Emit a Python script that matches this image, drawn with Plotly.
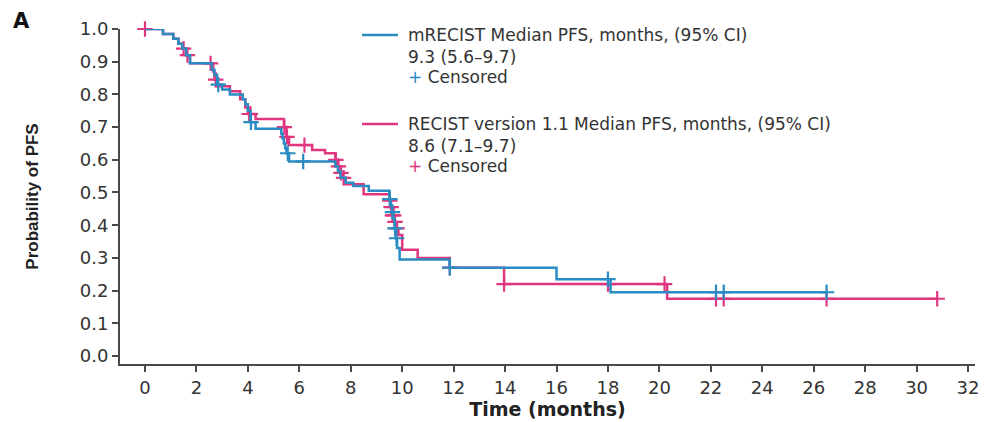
import numpy as np
import plotly.graph_objects as go

# ---------------- data ----------------
x_tick_vals = list(range(0, 33, 2))
y_tick_vals = [0.0, 0.1, 0.2, 0.3, 0.4, 0.5, 0.6, 0.7, 0.8, 0.9, 1.0]

# mRECIST: step times (months) and survival after each step
mrecist_times = [0, 0.7, 1.1, 1.3, 1.45, 1.6, 1.75, 2.6, 2.7, 2.8, 3.0, 3.3, 3.8, 3.9,
                 4.0, 4.1, 4.3, 5.3, 5.35, 5.4, 5.45, 5.5, 5.6, 7.4, 7.5, 7.6, 7.8,
                 8.1, 8.7, 9.5, 9.55, 9.6, 9.65, 9.7, 9.75, 9.8, 9.9, 11.85, 16.0, 18.1]
mrecist_surv = [1.0, 0.985, 0.97, 0.955, 0.94, 0.92, 0.895, 0.875, 0.86, 0.83, 0.815,
                0.80, 0.785, 0.77, 0.75, 0.715, 0.695, 0.68, 0.665, 0.65, 0.635, 0.62,
                0.595, 0.58, 0.565, 0.545, 0.53, 0.52, 0.505, 0.48, 0.46, 0.44, 0.42,
                0.39, 0.36, 0.33, 0.295, 0.27, 0.235, 0.195]
mrecist_end = 26.5
mrecist_censored = [2.85, 4.12, 5.55, 6.15, 9.52, 9.62, 9.72, 9.78, 11.85, 18.0,
                    22.2, 22.5, 26.5]

# RECIST version 1.1
recist_times = [0, 0.7, 1.1, 1.3, 1.45, 1.6, 1.75, 2.65, 2.7, 2.8, 3.3, 3.7, 3.9, 4.0,
                4.3, 5.4, 5.5, 5.6, 6.5, 7.0, 7.4, 7.5, 7.6, 7.7, 7.8, 8.5, 9.5, 9.55,
                9.6, 9.7, 9.75, 9.85, 10.0, 10.6, 11.85, 13.96, 20.3]
recist_surv = [1.0, 0.985, 0.97, 0.955, 0.94, 0.92, 0.895, 0.87, 0.845, 0.825, 0.81,
               0.785, 0.76, 0.74, 0.725, 0.70, 0.67, 0.645, 0.63, 0.62, 0.60, 0.58,
               0.56, 0.545, 0.525, 0.495, 0.475, 0.455, 0.43, 0.41, 0.39, 0.37, 0.325,
               0.30, 0.27, 0.22, 0.175]
recist_end = 30.8
recist_censored = [0.0, 1.5, 1.65, 2.55, 2.75, 4.05, 4.1, 5.42, 5.52, 6.2, 7.42, 7.52,
                   7.62, 7.72, 9.52, 9.57, 9.62, 9.67, 9.72, 9.8, 11.85, 13.96, 18.0,
                   20.2, 22.2, 22.5, 26.5, 30.8]

legend_mrecist = ["mRECIST Median PFS, months, (95% CI)", "9.3 (5.6\u20139.7)", "Censored"]
legend_recist = ["RECIST version 1.1 Median PFS, months, (95% CI)", "8.6 (7.1\u20139.7)", "Censored"]

# ---------------- styling ----------------
BLUE = "#2a8cc2"
PINK = "#e0367f"
TXT = "#333333"
AX = "#4a4a4a"
OFF = 8                      # page body margin in the browser
W, H = 993 - OFF, 422 - OFF
ML, MR, MT, MB = 112, 18, 21, 58


def surv_at(times, surv, t):
    idx = np.searchsorted(np.array(times), t, side="right") - 1
    return np.array(surv)[idx]


def px(xpix):
    return (xpix - OFF - ML) / (W - ML - MR)


def py(ypix):
    return (H - MB - (ypix - OFF)) / (H - MT - MB)


fig = go.Figure()

for times, surv, end, cens, col in [
    (recist_times, recist_surv, recist_end, recist_censored, PINK),
    (mrecist_times, mrecist_surv, mrecist_end, mrecist_censored, BLUE),
]:
    fig.add_trace(go.Scatter(
        x=list(times) + [end], y=list(surv) + [surv[-1]],
        mode="lines", line=dict(color=col, width=2.5, shape="hv"),
        showlegend=False, hoverinfo="skip", cliponaxis=False))
    fig.add_trace(go.Scatter(
        x=cens, y=surv_at(times, surv, np.array(cens)),
        mode="markers",
        marker=dict(symbol="cross-thin", size=11, line=dict(color=col, width=2.2)),
        showlegend=False, hoverinfo="skip", cliponaxis=False))

fig.update_layout(
    width=W, height=H,
    margin=dict(l=ML, r=MR, t=MT, b=MB),
    paper_bgcolor="white", plot_bgcolor="white",
    font=dict(family="DejaVu Sans", color=TXT),
    xaxis=dict(
        range=[-0.972, 32.27], tickvals=x_tick_vals, showgrid=False, zeroline=False,
        automargin=False,
        showline=True, linecolor=AX, linewidth=2, ticks="outside", ticklen=6,
        tickwidth=1.5, tickcolor=AX, tickfont=dict(size=18, color=TXT),
        title=dict(text="<b>Time (months)</b>", font=dict(size=19, family="DejaVu Sans", color="#222"),
                   standoff=0)),
    yaxis=dict(
        range=[-0.0245, 1.0], tickvals=y_tick_vals, tickformat=".1f", showgrid=False,
        automargin=False,
        zeroline=False, showline=True, linecolor=AX, linewidth=2, ticks="outside",
        ticklen=6, tickwidth=1.5, tickcolor=AX, tickfont=dict(size=18, color=TXT),
        title=dict(text="<b>Probability of PFS</b>",
                   font=dict(size=17, family="Liberation Sans", color="#222"), standoff=37)),
)

# legend drawn as text and line samples
for ypix, col, texts in [(35, BLUE, legend_mrecist), (124, PINK, legend_recist)]:
    fig.add_shape(type="line", xref="paper", yref="paper",
                  x0=px(362), x1=px(398), y0=py(ypix), y1=py(ypix),
                  line=dict(color=col, width=2.5))
    fig.add_annotation(xref="paper", yref="paper", x=px(407), y=py(ypix - 11),
                       text=texts[0] + "<br>" + texts[1],
                       showarrow=False, xanchor="left", yanchor="top", align="left",
                       borderpad=0, font=dict(size=17, color=TXT))
    fig.add_annotation(xref="paper", yref="paper", x=px(407), y=py(ypix + 42),
                       text=f"<span style='color:{col}'>+</span> {texts[2]}",
                       showarrow=False, xanchor="left", yanchor="middle",
                       borderpad=0, font=dict(size=17, color=TXT))

fig.add_annotation(xref="paper", yref="paper", x=px(11), y=py(21), text="<b>A</b>",
                   showarrow=False, xanchor="left", yanchor="middle",
                   font=dict(size=21, color="#111"))

fig.write_html("out.html")
